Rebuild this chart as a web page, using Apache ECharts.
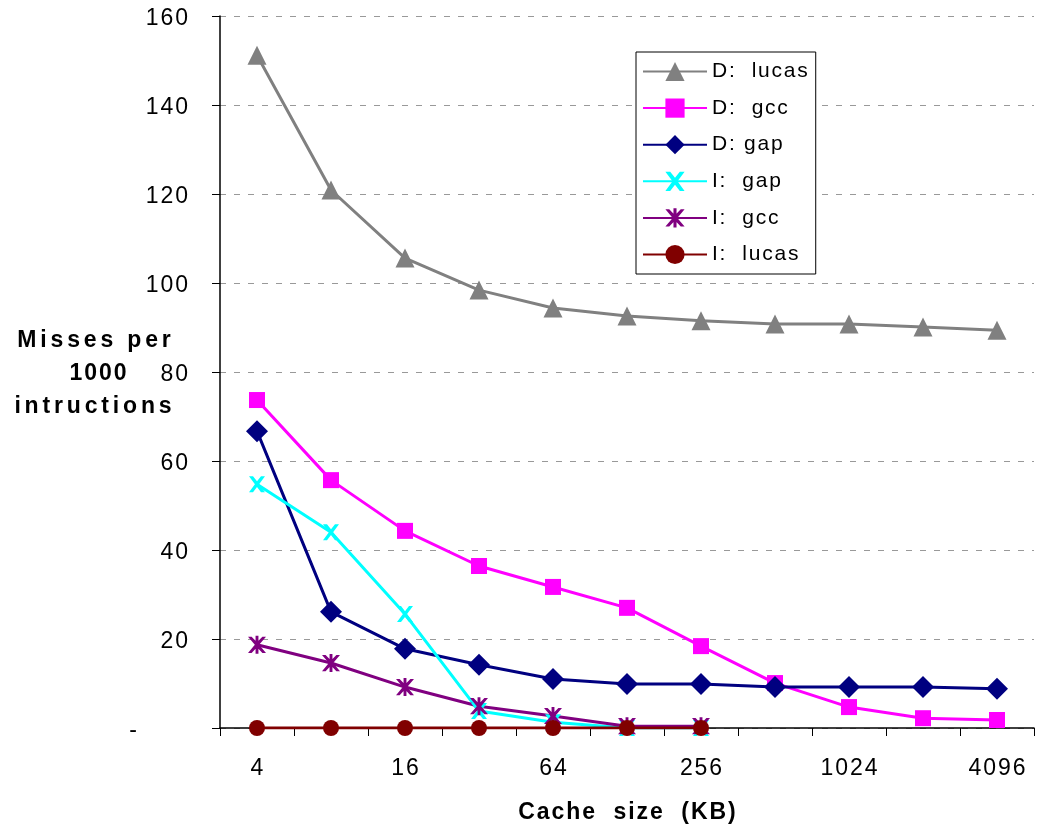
<!DOCTYPE html>
<html><head><meta charset="utf-8">
<script src="https://cdn.jsdelivr.net/npm/echarts@6/dist/echarts.min.js"></script>
<style>html,body{margin:0;padding:0;background:#fff}#c{width:1042px;height:830px}</style>
</head><body><div id="c"></div>
<script>
const categories = ['4','8','16','32','64','128','256','512','1024','2048','4096'];
const dLucas = [151.2,120.9,105.6,98.4,94.4,92.6,91.5,90.8,90.8,90.1,89.4];
const dGcc   = [73.7,55.7,44.3,36.4,31.7,27.0,18.4,10.1,4.7,2.2,1.8];
const dGap   = [66.7,26.1,17.8,14.2,11.0,9.9,9.9,9.2,9.2,9.2,8.8];
const iGap   = [54.8,44.0,25.6,3.8,1.3,0,0];
const iGcc   = [18.7,14.6,9.2,4.9,2.7,0.4,0.4];
const iLucas = [0,0,0,0,0,0,0];
const seriesNames = ['D:  lucas','D:  gcc','D: gap','I:  gap','I:  gcc','I:  lucas'];
const xTitle = 'Cache  size  (KB)';
const yTitle = ['Misses per','1000','intructions'];

const HS = '\u200A';
const sp = (s, n) => String(s).split('').join(HS.repeat(n || 1));
const FONT = 'Liberation Sans, Arial, Helvetica, sans-serif';

const X_PATH = 'path://M0,0 L2.5,0 L5,3.2 L7.5,0 L10,0 L6.3,5 L10,10 L7.5,10 L5,6.8 L2.5,10 L0,10 L3.7,5 Z';
const STAR_PATH = 'path://M0,0.5 L2,0.5 L5,3.6 L8,0.5 L10,0.5 L6.2,5 L10,9.5 L8,9.5 L5,6.4 L2,9.5 L0,9.5 L3.8,5 Z M4.2,0 L5.8,0 L5.8,10 L4.2,10 Z';

function mk(name, data, color, symbol, size) {
  return {
    name, type: 'line', data, symbol, symbolSize: size,
    lineStyle: {color, width: 3}, itemStyle: {color, borderWidth: 0},
    color, showAllSymbol: true, animation: false, z: 3
  };
}

const chart = echarts.init(document.getElementById('c'));
chart.setOption({
  animation: false,
  backgroundColor: '#fff',
  grid: {left: 220, right: 8, top: 16, bottom: 102, containLabel: false},
  legend: {
    orient: 'vertical', left: 636, top: 52,
    backgroundColor: '#fff', borderColor: '#000', borderWidth: 1,
    padding: [9, 8, 9, 6], itemGap: 15.6, itemWidth: 64, itemHeight: 24,
    textStyle: {fontFamily: FONT, fontSize: 21, color: '#000'},
    formatter: n => sp(n),
    data: seriesNames
  },
  xAxis: {
    type: 'category', data: categories, boundaryGap: true,
    axisLine: {lineStyle: {color: '#000', width: 1.5}},
    axisTick: {show: true, interval: 0, length: 8, lineStyle: {color: '#000'}},
    axisLabel: {interval: 1, margin: 29, fontFamily: FONT, fontSize: 23, color: '#000', formatter: v => sp(v)},
    splitLine: {show: false}
  },
  yAxis: {
    type: 'value', min: 0, max: 160, interval: 20,
    axisLine: {show: true, lineStyle: {color: '#000', width: 1.5}},
    axisTick: {show: true, length: 8, lineStyle: {color: '#000'}},
    axisLabel: {margin: 32, verticalAlign: 'top', lineHeight: 5, fontFamily: FONT, fontSize: 23, color: '#000',
      formatter: v => v === 0 ? '-        ' : sp(v)},
    splitLine: {show: true, lineStyle: {color: '#999', type: [6, 8], width: 1}}
  },
  graphic: [
    {type: 'text', x: 94, y: 341, style: {text: sp(yTitle[0], 2), font: 'bold 23px ' + FONT, fill: '#000', textAlign: 'center', textVerticalAlign: 'middle'}},
    {type: 'text', x: 98, y: 374, style: {text: sp(yTitle[1], 1), font: 'bold 23px ' + FONT, fill: '#000', textAlign: 'center', textVerticalAlign: 'middle'}},
    {type: 'text', x: 93, y: 407, style: {text: sp(yTitle[2], 2), font: 'bold 23px ' + FONT, fill: '#000', textAlign: 'center', textVerticalAlign: 'middle'}},
    {type: 'text', x: 627, y: 813, style: {text: sp(xTitle, 1), font: 'bold 23px ' + FONT, fill: '#000', textAlign: 'center', textVerticalAlign: 'middle'}}
  ],
  series: [
    mk(seriesNames[0], dLucas, '#808080', 'triangle', 19),
    mk(seriesNames[1], dGcc, '#FF00FF', 'rect', 16),
    mk(seriesNames[2], dGap, '#000080', 'diamond', 22),
    mk(seriesNames[3], iGap, '#00FFFF', X_PATH, 16),
    mk(seriesNames[4], iGcc, '#800080', STAR_PATH, 18),
    mk(seriesNames[5], iLucas, '#800000', 'circle', 16)
  ]
});
</script></body></html>
